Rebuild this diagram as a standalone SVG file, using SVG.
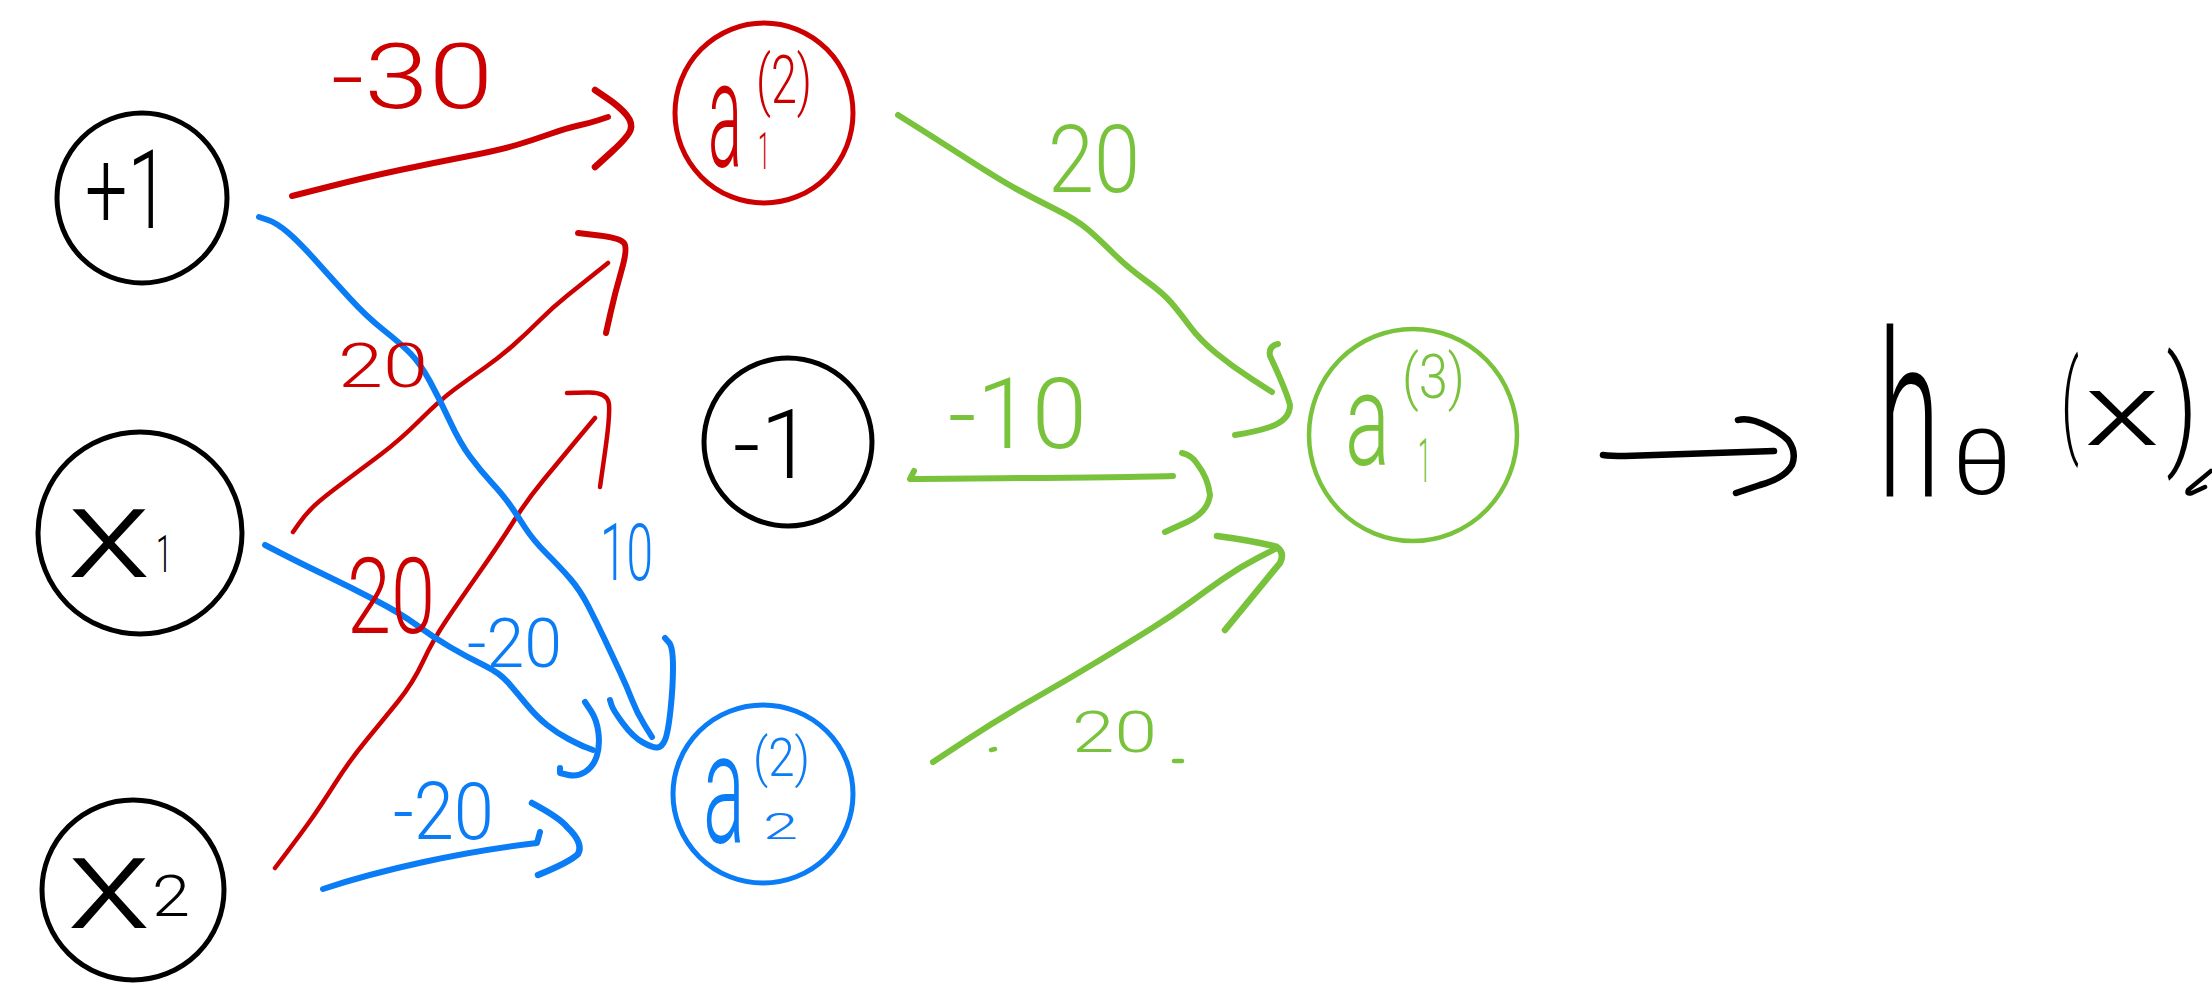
<svg xmlns="http://www.w3.org/2000/svg" width="2212" height="1000" viewBox="0 0 2212 1000">
<style>
.node{fill:none;stroke-width:5}
.k{stroke:#000}
.r{stroke:#CC0000}
.b{stroke:#0A7CF5}
.g{stroke:#79C23C}
.e{fill:none;stroke-linecap:round;stroke-linejoin:round}
.w5{stroke-width:6}
.w4{stroke-width:4.5}
.w6{stroke-width:6.5}
text{font-family:Roboto,"Liberation Sans",Arial,sans-serif;font-weight:300}
.tk{fill:#000}
.tr{fill:#CC0000}
.tb{fill:#0A7CF5}
.tg{fill:#79C23C}
</style>
<rect width="2212" height="1000" fill="#fff"/>

<g id="connectors">
  <!-- red: +1 -> a1(2) -->
  <path class="e r w5" d="M292,196 L329.5,186.5 Q367,177 400,170 Q433,163 466.5,156.5 Q500,150 516.5,145 Q533,140 550,134 Q567,128 578.5,125.5 Q590,123 599,120 L608,117"/>
  <path class="e r w6" d="M595,90 L607.5,98.5 Q620,107 626.5,115 Q633,123 630.5,130 Q628,137 611.5,152 L595,167"/>
  <!-- red: x1 -> a1(2) -->
  <path class="e r w4" d="M293,532 L299,523.5 Q305,515 312.5,507.5 Q320,500 340,485 Q360,470 380,455 Q400,440 420,420 Q440,400 455,389 Q470,378 485,367.5 Q500,357 513.5,345 Q527,333 540,320 Q553,307 568,295 Q583,283 595.5,273 L608,263"/>
  <path class="e r w5" d="M578,233 L599,235.5 Q620,238 624,243 Q628,248 621.5,270.5 Q615,293 610.5,313 L606,333"/>
  <!-- red: x2 -> a1(2) -->
  <path class="e r w4" d="M275,868 L287.5,851.5 Q300,835 310,821 Q320,807 335,783.5 Q350,760 366.5,740 Q383,720 398,701.5 Q413,683 423,661.5 Q433,640 446.5,620 Q460,600 480,571.5 Q500,543 513.5,521.5 Q527,500 543.5,480 Q560,460 577.5,439 L595,418"/>
  <path class="e r w4" d="M567,393 L587.5,392.5 Q608,392 609,404.5 Q610,417 605,452 L600,487"/>
  <!-- blue: +1 -> a2(2) -->
  <path class="e b w5" d="M259,217 L268,220 Q277,223 288.5,233 Q300,243 316.5,261.5 Q333,280 350,298.5 Q367,317 383.5,330 Q400,343 410,353 Q420,363 430,381.5 Q440,400 450,421.5 Q460,443 470,456.5 Q480,470 491.5,482.5 Q503,495 510,505 Q517,515 525,527.5 Q533,540 546.5,553.5 Q560,567 570,578.5 Q580,590 588.5,606.5 Q597,623 605,640 Q613,657 620,672 Q627,687 632,700 Q637,713 644.5,725 L652,737"/>
  <path class="e b w5" d="M665,638 L669,642.5 Q673,647 673,667 Q673,687 670.5,710 Q668,733 665,740 Q662,747 657.5,747.5 Q653,748 643,742.5 Q633,737 623,723.5 Q613,710 611.5,705 L610,700"/>
  <!-- blue: x1 -> a2(2) -->
  <path class="e b w5" d="M265,545 L282.5,554 Q300,563 325,575 Q350,587 375,600 Q400,613 416.5,625 Q433,637 450,647 Q467,657 483.5,665 Q500,673 508.5,683 Q517,693 527,705 Q537,717 547,725 Q557,733 568.5,739 Q580,745 586.5,747.5 L593,750"/>
  <path class="e b w5" d="M585,702 L591,711 Q597,720 598.5,733.5 Q600,747 596.5,757 Q593,767 585,772 Q577,777 568.5,775 L560,773 L560,768"/>
  <!-- blue: x2 -> a2(2) -->
  <path class="e b w5" d="M323,889 C380,870 460,852 537,843 L540,832"/>
  <path class="e b w6" d="M532,803 Q560,818 567,827 Q584,843 578,854 Q570,862 538,875"/>
  <!-- green: a1(2) -> a1(3) -->
  <path class="e g w5" d="M898,115 L915.5,126 Q933,137 966.5,158.5 Q1000,180 1016.5,189 Q1033,198 1055,209 Q1077,220 1088.5,230 Q1100,240 1113.5,253.5 Q1127,267 1145,280 Q1163,293 1171.5,303 Q1180,313 1190,326.5 Q1200,340 1216.5,353.5 Q1233,367 1252.5,379.5 L1272,392"/>
  <path class="e g w5" d="M1278,344 Q1268,346 1270,356 Q1286,390 1290,405 Q1290,420 1270,427 Q1255,432 1235,435"/>
  <!-- green: -1 -> a1(3) -->
  <path class="e g w5" d="M914,471 L910,479 C1000,478 1100,478 1173,476"/>
  <path class="e g w5" d="M1182,453 Q1192,455 1198,465 Q1208,478 1210,495 Q1208,512 1187,522 L1165,532"/>
  <!-- green: a2(2) -> a1(3) -->
  <path class="e g w5" d="M933,762 L966.5,740 Q1000,718 1033.5,699 Q1067,680 1100,660 Q1133,640 1153,627.5 Q1173,615 1190,602.5 Q1207,590 1223.5,578.5 Q1240,567 1258.5,557.5 L1277,548"/>
  <path class="e g w6" d="M1217,536 Q1255,541 1277,547 Q1285,553 1280,563 L1225,630"/>
  <path class="e g w4" d="M991,750 L995,749 M1174,761 L1182,761"/>
  <!-- output arrow -->
  <path class="e k w6" d="M1603,455 Q1610,456 1625,456 L1774,451"/>
  <path class="e k w6" d="M1738,420 Q1745,418 1755,421 Q1775,428 1788,440 Q1797,452 1792,465 Q1785,478 1760,485 L1736,493"/>
</g>

<g id="edge-labels">
  <text class="tr" x="331" y="108" font-size="90" textLength="162" lengthAdjust="spacingAndGlyphs">-30</text>
  <text class="tr" x="338" y="387" font-size="62" textLength="90" lengthAdjust="spacingAndGlyphs">20</text>
  <text class="tr" x="347" y="633" font-size="105" textLength="88" lengthAdjust="spacingAndGlyphs">20</text>
  <text class="tb" x="600" y="580" font-size="80" textLength="53" lengthAdjust="spacingAndGlyphs">10</text>
  <text class="tb" x="467" y="667" font-size="68" textLength="95" lengthAdjust="spacingAndGlyphs">-20</text>
  <text class="tb" x="393" y="839" font-size="80" textLength="101" lengthAdjust="spacingAndGlyphs">-20</text>
  <text class="tg" x="1048" y="192" font-size="95" textLength="92" lengthAdjust="spacingAndGlyphs">20</text>
  <text class="tg" x="948" y="448" font-size="98" textLength="139" lengthAdjust="spacingAndGlyphs">-10</text>
  <text class="tg" x="1072" y="752" font-size="58" textLength="85" lengthAdjust="spacingAndGlyphs">20</text>
</g>

<g id="node-plus1">
  <ellipse class="node k" cx="142" cy="198" rx="85" ry="85"/>
  <text class="tk" x="85" y="228" font-size="110" textLength="84" lengthAdjust="spacingAndGlyphs">+1</text>
</g>
<g id="node-x1">
  <ellipse class="node k" cx="140" cy="533" rx="102" ry="101"/>
  <text class="tk"><tspan x="67" y="577" font-size="128" textLength="84" lengthAdjust="spacingAndGlyphs">x</tspan><tspan x="156" y="572" font-size="52" textLength="16" lengthAdjust="spacingAndGlyphs">1</tspan></text>
</g>
<g id="node-x2">
  <ellipse class="node k" cx="133" cy="890" rx="91" ry="90"/>
  <text class="tk"><tspan x="67" y="928" font-size="132" textLength="84" lengthAdjust="spacingAndGlyphs">x</tspan><tspan x="152" y="916" font-size="58" textLength="38" lengthAdjust="spacingAndGlyphs">2</tspan></text>
</g>
<g id="node-minus1">
  <ellipse class="node k" cx="788" cy="442" rx="84" ry="84"/>
  <text class="tk" x="733" y="478" font-size="97" textLength="80" lengthAdjust="spacingAndGlyphs">-1</text>
</g>
<g id="node-a1-2">
  <ellipse class="node r" cx="764" cy="113" rx="89" ry="90"/>
  <text class="tr"><tspan x="708" y="167" font-size="150" textLength="34" lengthAdjust="spacingAndGlyphs">a</tspan><tspan x="758" y="169" font-size="52" textLength="12" lengthAdjust="spacingAndGlyphs">1</tspan><tspan x="756" y="103" font-size="66" textLength="56" lengthAdjust="spacingAndGlyphs">(2)</tspan></text>
</g>
<g id="node-a2-2">
  <ellipse class="node b" cx="763" cy="794" rx="90" ry="89"/>
  <text class="tb"><tspan x="703" y="842" font-size="155" textLength="42" lengthAdjust="spacingAndGlyphs">a</tspan><tspan x="763" y="839" font-size="36" textLength="35" lengthAdjust="spacingAndGlyphs">2</tspan><tspan x="753" y="776" font-size="54" textLength="57" lengthAdjust="spacingAndGlyphs">(2)</tspan></text>
</g>
<g id="node-a1-3">
  <ellipse class="node g" cx="1413" cy="435" rx="104" ry="106" style="stroke-width:4.5"/>
  <text class="tg"><tspan x="1345" y="465" font-size="130" textLength="45" lengthAdjust="spacingAndGlyphs">a</tspan><tspan x="1418" y="482" font-size="62" textLength="13" lengthAdjust="spacingAndGlyphs">1</tspan><tspan x="1402" y="398" font-size="62" textLength="63" lengthAdjust="spacingAndGlyphs">(3)</tspan></text>
</g>
<g id="node-output">
  <text class="tk"><tspan x="1878" y="496" font-size="230" textLength="62" lengthAdjust="spacingAndGlyphs">h</tspan><tspan x="1952" y="494" font-size="90" textLength="60" lengthAdjust="spacingAndGlyphs">θ</tspan><tspan x="2061" y="442" font-size="113" textLength="18" lengthAdjust="spacingAndGlyphs">(</tspan><tspan x="2084" y="445" font-size="102" textLength="76" lengthAdjust="spacingAndGlyphs">x</tspan><tspan x="2166" y="451" font-size="130" textLength="32" lengthAdjust="spacingAndGlyphs">)</tspan></text>
  <path class="e k w4" d="M2211,471 L2188,490 Q2186,495 2192,493 L2205,487"/>
</g>
</svg>
